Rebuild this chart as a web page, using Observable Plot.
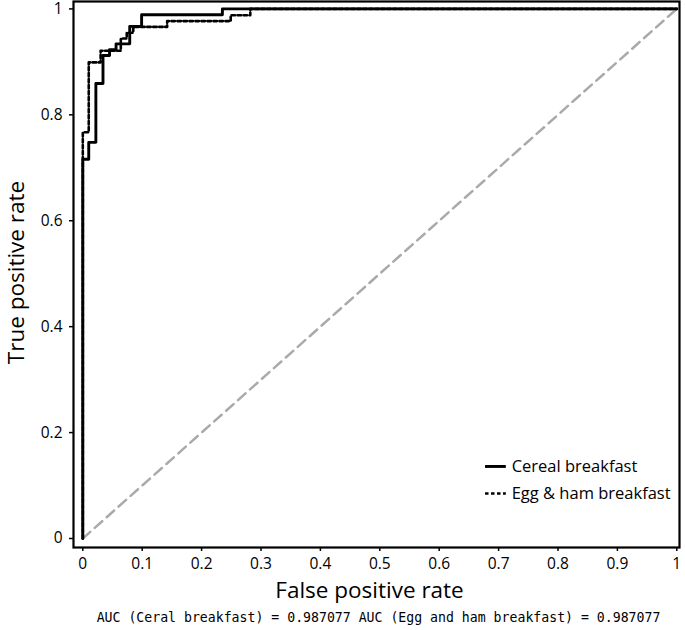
<!DOCTYPE html>
<html>
<head>
<meta charset="utf-8">
<script src="https://cdn.jsdelivr.net/npm/d3@7"></script>
<script src="https://cdn.jsdelivr.net/npm/@observablehq/plot@0.6"></script>
<style>
  html, body { margin: 0; padding: 0; background: white; }
</style>
</head>
<body>
<div id="chart"></div>
<script>
// ---- data ----
const categories = ["Cereal breakfast", "Egg & ham breakfast"];
const cerealFPR = [0, 0, 0.010, 0.022, 0.034, 0.045, 0.056, 0.079, 0.099, 0.235, 1];
const cerealTPR = [0, 0.716, 0.748, 0.859, 0.912, 0.923, 0.934, 0.967, 0.989, 1, 1];
const eggFPR = [0, 0, 0.010, 0.030, 0.064, 0.074, 0.085, 0.142, 0.249, 0.282, 1];
const eggTPR = [0, 0.767, 0.899, 0.921, 0.944, 0.955, 0.966, 0.977, 0.988, 1, 1];
const chanceLine = [0, 1];
const xTicks = [0, 0.1, 0.2, 0.3, 0.4, 0.5, 0.6, 0.7, 0.8, 0.9, 1];
const yTicks = [0, 0.2, 0.4, 0.6, 0.8, 1];
const xLabel = "False positive rate";
const yLabel = "True positive rate";
const aucText = "AUC (Ceral breakfast) = 0.987077 AUC (Egg and ham breakfast) = 0.987077";

// ---- layout ----
const legendLineX = [0.678, 0.713];
const legendTextX = 0.722;
const legendY = [0.136, 0.085];

const cereal = cerealFPR.map((x, i) => ({fpr: x, tpr: cerealTPR[i]}));
const egg = eggFPR.map((x, i) => ({fpr: x, tpr: eggTPR[i]}));
const fmt = d3.format("~g");
const font = "'Open Sans', sans-serif";

const chart = Plot.plot({
  width: 685,
  height: 630,
  marginLeft: 73,
  marginRight: 6,
  marginTop: 1,
  marginBottom: 83,
  x: {domain: [0, 1], insetLeft: 9.3, insetRight: 2.7},
  y: {domain: [0, 1], insetTop: 7.4, insetBottom: 9},
  style: {fontFamily: font, background: "white", color: "black"},
  marks: [
    Plot.axisX({ticks: xTicks, tickSize: 4, tickPadding: 6, tickFormat: fmt, fontSize: 15.5, label: null, strokeWidth: 1.5}),
    Plot.axisY({ticks: yTicks, tickSize: 4, tickPadding: 7, tickFormat: fmt, fontSize: 15.5, label: null, strokeWidth: 1.5}),
    Plot.line(chanceLine, {x: d => d, y: d => d, stroke: "#aaaaaa", strokeWidth: 2.5, strokeDasharray: "10,6"}),
    Plot.line(cereal, {x: "fpr", y: "tpr", curve: "step-after", stroke: "black", strokeWidth: 2.9}),
    Plot.line(egg, {x: "fpr", y: "tpr", curve: "step-after", stroke: "black", strokeWidth: 2.6, strokeDasharray: "3.5,2.5"}),
    Plot.frame({stroke: "black", strokeWidth: 2.2}),
    // legend
    Plot.ruleY([legendY[0]], {x1: legendLineX[0], x2: legendLineX[1], stroke: "black", strokeWidth: 2.9}),
    Plot.ruleY([legendY[1]], {x1: legendLineX[0], x2: legendLineX[1], stroke: "black", strokeWidth: 2.6, strokeDasharray: "3.5,2.5"}),
    Plot.text(categories, {x: legendTextX, y: (d, i) => legendY[i], text: d => d, textAnchor: "start", fontSize: 16.5}),
    // axis titles & caption
    Plot.text([xLabel], {text: d => d, frameAnchor: "bottom", textAnchor: "middle", dy: 50, dx: -7, fontSize: 22.5}),
    Plot.text([yLabel], {text: d => d, frameAnchor: "left", textAnchor: "middle", dx: -57, dy: -2, rotate: -90, fontSize: 22.5}),
    Plot.text([aucText], {text: d => d, frameAnchor: "bottom", textAnchor: "middle", dy: 74, dx: 2, fontSize: 13.2, fontFamily: "'DejaVu Sans Mono', monospace"})
  ]
});
document.getElementById("chart").appendChild(chart);
</script>
</body>
</html>
